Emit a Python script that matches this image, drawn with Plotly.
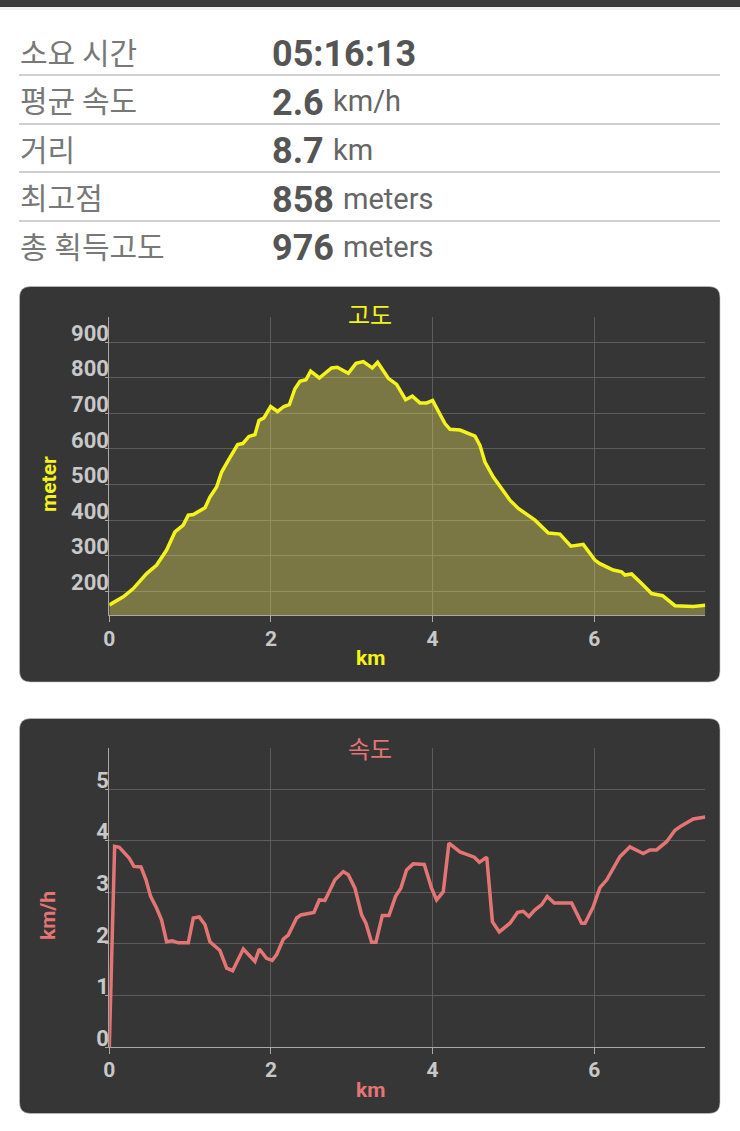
import plotly.graph_objects as go

W, H = 740, 1131

# ---------- data ----------
summary_labels = ["소요 시간", "평균 속도", "거리", "최고점", "총 획득고도"]
summary_values = ["05:16:13", "2.6", "8.7", "858", "976"]
summary_units = ["", "km/h", "km", "meters", "meters"]

elev_km = [0, .173, .297, .462, .586, .709, .812, .915, .977, 1.04, 1.184, 1.245, 1.328, 1.39, 1.472,
           1.588, 1.65, 1.728, 1.802, 1.852, 1.913, 1.996, 2.082, 2.16, 2.227, 2.297, 2.359, 2.433,
           2.491, 2.598, 2.75, 2.82, 2.957, 3.052, 3.142, 3.254, 3.32, 3.452, 3.555, 3.666, 3.749,
           3.843, 3.926, 4.0, 4.153, 4.216, 4.339, 4.525, 4.586, 4.648, 4.751, 4.957, 5.06, 5.267,
           5.432, 5.575, 5.711, 5.864, 6.008, 6.07, 6.235, 6.338, 6.38, 6.462, 6.586, 6.71, 6.846,
           6.999, 7.226, 7.374]
elev_m = [162, 185, 208, 250, 274, 316, 367, 386, 414, 416, 435, 465, 493, 535, 568,
          612, 615, 635, 640, 680, 687, 719, 705, 719, 724, 769, 790, 794,
          818, 799, 827, 829, 812, 840, 845, 827, 843, 798, 781, 738, 748,
          729, 729, 736, 671, 655, 653, 636, 610, 563, 521, 456, 433, 400,
          364, 361, 327, 332, 288, 278, 260, 255, 246, 249, 222, 194, 188,
          160, 158, 161]

speed_km = [0, .016, .033, .066, .124, .194, .247, .305, .392, .454, .511, .586, .647, .709, .779,
            .854, .977, 1.039, 1.113, 1.184, 1.245, 1.369, 1.452, 1.526, 1.658, 1.802, 1.856, 1.946,
            2.016, 2.07, 2.153, 2.214, 2.318, 2.371, 2.532, 2.598, 2.668, 2.792, 2.895, 2.957, 3.039,
            3.122, 3.175, 3.245, 3.299, 3.378, 3.46, 3.542, 3.608, 3.678, 3.76, 3.897, 3.987, 4.05,
            4.132, 4.202, 4.339, 4.516, 4.579, 4.67, 4.74, 4.825, 4.957, 5.052, 5.122, 5.192, 5.267,
            5.35, 5.418, 5.505, 5.72, 5.844, 5.886, 5.988, 6.07, 6.155, 6.318, 6.441, 6.606, 6.689,
            6.771, 6.895, 6.999, 7.081, 7.226, 7.374]
speed_kmh = [0, 1.04, 2.33, 3.89, 3.87, 3.76, 3.66, 3.5, 3.49, 3.24, 2.92, 2.69, 2.46, 2.04, 2.06,
             2.02, 2.02, 2.5, 2.52, 2.37, 2.04, 1.87, 1.53, 1.48, 1.9, 1.66, 1.9, 1.72,
             1.68, 1.79, 2.09, 2.17, 2.5, 2.56, 2.61, 2.85, 2.84, 3.24, 3.4, 3.34, 3.08,
             2.56, 2.4, 2.03, 2.03, 2.55, 2.55, 2.92, 3.08, 3.43, 3.55, 3.54, 3.08, 2.85,
             3.01, 3.95, 3.78, 3.68, 3.58, 3.68, 2.43, 2.23, 2.4, 2.61, 2.63, 2.53, 2.66,
             2.76, 2.92, 2.79, 2.79, 2.4, 2.4, 2.72, 3.09, 3.24, 3.69, 3.88, 3.75, 3.82,
             3.82, 3.98, 4.2, 4.29, 4.42, 4.46]

elev_ticks = [200, 300, 400, 500, 600, 700, 800, 900]
speed_ticks = [0, 1, 2, 3, 4, 5]
km_ticks = [0, 2, 4, 6]

# ---------- style ----------
PANEL = "#363636"
YELLOW = "#f4f418"
RED = "#e57575"
TICK = "#c8c8c8"
GRID = "#5c5c5c"
AXIS = "#a8a8a8"
CJK = "Noto Sans CJK KR"
ROBOTO = "Roboto"


def px(x):
    return x / W


def py(y):
    return 1 - y / H


def rounded(x0, y0, x1, y1, r):
    X0, X1, Y0, Y1 = px(x0), px(x1), py(y0), py(y1)
    rx, ry = r / W, r / H
    return (f"M {X0 + rx} {Y0} L {X1 - rx} {Y0} Q {X1} {Y0} {X1} {Y0 - ry} "
            f"L {X1} {Y1 + ry} Q {X1} {Y1} {X1 - rx} {Y1} L {X0 + rx} {Y1} "
            f"Q {X0} {Y1} {X0} {Y1 + ry} L {X0} {Y0 - ry} Q {X0} {Y0} {X0 + rx} {Y0} Z")


def text(x, y, s, size, color, font=ROBOTO, weight=400, anchor="left", angle=0):
    return dict(x=px(x), y=py(y), xref="paper", yref="paper", text=s, showarrow=False,
                xanchor=anchor, yanchor="middle", textangle=angle,
                font=dict(family=font, size=size, color=color, weight=weight))


fig = go.Figure()
fig.add_trace(go.Scatter(x=elev_km, y=elev_m, mode="lines", xaxis="x", yaxis="y",
                         line=dict(color=YELLOW, width=3.5), fill="tozeroy",
                         fillcolor="rgba(255,247,100,0.34)", hoverinfo="skip"))
fig.add_trace(go.Scatter(x=speed_km, y=speed_kmh, mode="lines", xaxis="x2", yaxis="y2",
                         line=dict(color=RED, width=3.5), hoverinfo="skip"))

shapes = [
    dict(type="rect", xref="paper", yref="paper", x0=0, x1=1, y0=py(7), y1=1,
         fillcolor="#3a3a3a", line_width=0, layer="below"),
    dict(type="rect", xref="paper", yref="paper", x0=0, x1=1, y0=py(10), y1=py(7),
         fillcolor="#f1f1f1", line_width=0, layer="below"),
    dict(type="path", xref="paper", yref="paper", path=rounded(19.5, 286.5, 720, 682, 11),
         fillcolor=PANEL, line=dict(color="#c4c4c4", width=0.6), layer="below"),
    dict(type="path", xref="paper", yref="paper", path=rounded(19.5, 718.5, 720, 1113.5, 11),
         fillcolor=PANEL, line=dict(color="#c4c4c4", width=0.6), layer="below"),
]
for y in [75, 124, 172, 221]:
    shapes.append(dict(type="line", xref="paper", yref="paper", x0=px(19), x1=px(720),
                       y0=py(y), y1=py(y), line=dict(color="#d0d0d0", width=2), layer="below"))

annotations = []
row_label_y = [51, 99, 148, 196, 245]
row_value_y = [54, 103, 151, 200, 248]
unit_x = [0, 331, 331, 341, 341]
unit_y = [0, 101, 150, 199, 247]
for i in range(5):
    annotations.append(text(18, row_label_y[i], summary_labels[i], 30, "#787878", font=CJK))
    annotations.append(text(270, row_value_y[i], summary_values[i], 36, "#555555", weight=700))
    if summary_units[i]:
        annotations.append(text(unit_x[i], unit_y[i], summary_units[i], 29, "#666666"))

annotations += [
    text(370, 314, "고도", 24, YELLOW, font=CJK, anchor="center"),
    text(370, 658, "km", 21, YELLOW, weight=700, anchor="center"),
    text(49, 484, "meter", 21, YELLOW, weight=700, anchor="center", angle=-90),
    text(370, 747, "속도", 24, RED, font=CJK, anchor="center"),
    text(370, 1090, "km", 21, RED, weight=700, anchor="center"),
    text(48, 916, "km/h", 21, RED, weight=700, anchor="center", angle=-90),
]

xcommon = dict(range=[0, 7.374], tickvals=km_ticks, showgrid=True, gridcolor=GRID, gridwidth=1,
               showline=True, linecolor=AXIS, linewidth=1, ticks="outside", ticklen=6,
               tickcolor=AXIS, zeroline=False, automargin=False, domain=[px(109.3), px(705.3)],
               ticklabelstandoff=-2,
               tickfont=dict(family=ROBOTO, size=21, color=TICK, weight=700))
ycommon = dict(showgrid=True, gridcolor=GRID, gridwidth=1, showline=True, linecolor=AXIS, linewidth=1,
               ticks="outside", ticklen=3, tickcolor=AXIS, zeroline=False, automargin=False,
               ticklabelstandoff=-8, ticklabelshift=-9,
               tickfont=dict(family=ROBOTO, size=22, color=TICK, weight=700))

fig.update_layout(
    width=W, height=H, margin=dict(l=0, r=0, t=0, b=0), autosize=False,
    paper_bgcolor="white", plot_bgcolor=PANEL, showlegend=False,
    shapes=shapes, annotations=annotations,
    xaxis=dict(anchor="y", **xcommon),
    yaxis=dict(anchor="x", range=[133, 971], tickvals=elev_ticks,
               domain=[py(615.3), py(316.7)], **ycommon),
    xaxis2=dict(anchor="y2", **xcommon),
    yaxis2=dict(anchor="x2", range=[0, 5.79], tickvals=speed_ticks,
                domain=[py(1047), py(748.3)], **ycommon),
)

fig.write_html("out.html", post_script="document.body.style.margin='0';document.documentElement.style.overflow='hidden';",
               config=dict(displayModeBar=False))
